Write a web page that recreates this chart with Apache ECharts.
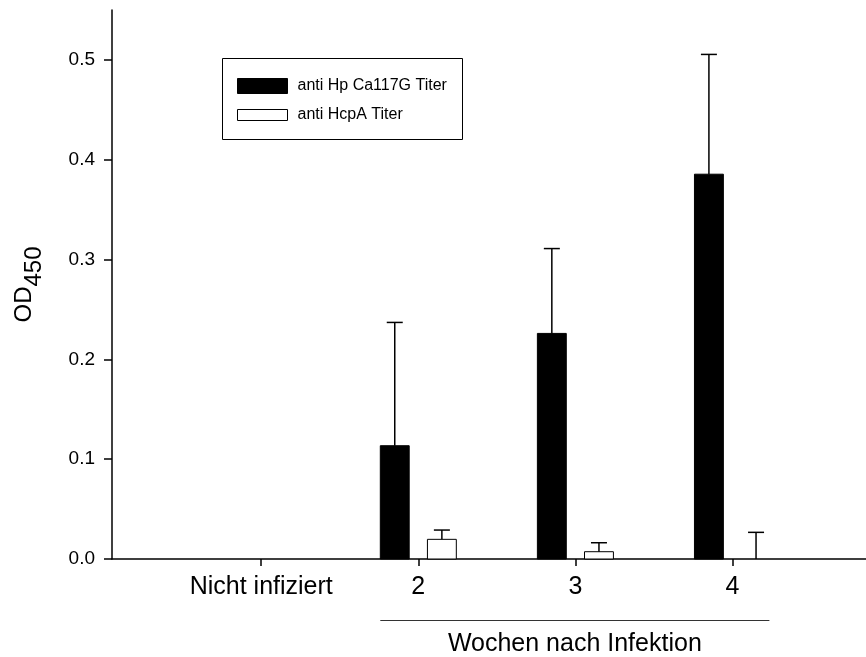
<!DOCTYPE html>
<html>
<head>
<meta charset="utf-8">
<title>OD450 Titer</title>
<script src="https://cdn.jsdelivr.net/npm/echarts@6/dist/echarts.min.js"></script>
<style>
  html, body { margin: 0; padding: 0; background: #fff; }
  #chart { width: 866px; height: 657px; }
</style>
</head>
<body>
<div id="chart"></div>
<script>
// Groups along the x axis (placed at positions 1..n)
const categories = ['Nicht infiziert', '2', '3', '4'];
// anti Hp Ca117G titer: mean OD450 and upper error
const hpMean = [0, 0.1135, 0.226, 0.3855];
const hpErr  = [0, 0.1235, 0.085, 0.12];
// anti HcpA titer: mean OD450 and upper error
const hcpMean = [0, 0.0197, 0.0073, 0];
const hcpErr  = [0, 0.0093, 0.009, 0.0267];
// y axis tick values
const yTicks = [0, 0.1, 0.2, 0.3, 0.4, 0.5];
const seriesNames = ['anti Hp Ca117G Titer', 'anti HcpA Titer'];

const FONT = '"Liberation Sans", Arial, Helvetica, sans-serif';
const positions = categories.map((c, i) => i + 1);
const BAR_OFFSET = 0.15;   // distance of each bar centre from the group position (axis units)
const BAR_HALF = 0.092;    // half bar width (axis units)
const CAP_HALF = 8;        // half width of error caps (px)

function makeData(mean, err) {
  return positions.map((p, i) => [p, mean[i], err[i]]);
}

function barRenderer(side, fill) {
  return function (params, api) {
    const x = api.value(0) + side * BAR_OFFSET;
    const m = api.value(1);
    const e = api.value(2);
    if (!m && !e) return null;
    const base = api.coord([x, 0]);
    const tl = api.coord([x - BAR_HALF, m]);
    const br = api.coord([x + BAR_HALF, 0]);
    const children = [];
    if (m > 0) {
      children.push({
        type: 'rect',
        shape: { x: tl[0], y: tl[1], width: br[0] - tl[0], height: br[1] - tl[1] },
        style: { fill: fill, stroke: '#000', lineWidth: 1 }
      });
    }
    if (e > 0) {
      const top = api.coord([x, m + e]);
      const bot = api.coord([x, m]);
      children.push({
        type: 'line',
        shape: { x1: bot[0], y1: bot[1], x2: top[0], y2: top[1] },
        style: { stroke: '#000', lineWidth: 1.5 }
      });
      children.push({
        type: 'line',
        shape: { x1: top[0] - CAP_HALF, y1: top[1], x2: top[0] + CAP_HALF, y2: top[1] },
        style: { stroke: '#000', lineWidth: 1.5 }
      });
    }
    return { type: 'group', children: children };
  };
}

const chart = echarts.init(document.getElementById('chart'), null, { renderer: 'canvas' });

const legendCommon = {
  orient: 'vertical',
  left: 237,
  padding: 0,
  itemWidth: 50,
  selectedMode: false,
  textStyle: { fontFamily: FONT, fontSize: 16, color: '#000', lineHeight: 18, padding: [0, 0, 0, 5] }
};

chart.setOption({
  animation: false,
  backgroundColor: '#fff',
  grid: { left: 112, right: 0, top: 10, bottom: 98 },
  legend: [
    Object.assign({}, legendCommon, {
      top: 77, itemHeight: 15,
      data: [{ name: seriesNames[0], icon: 'rect', itemStyle: { color: '#000', borderColor: '#000', borderWidth: 1 } }]
    }),
    Object.assign({}, legendCommon, {
      top: 106, itemHeight: 11,
      data: [{ name: seriesNames[1], icon: 'rect', itemStyle: { color: '#fff', borderColor: '#000', borderWidth: 1 } }]
    })
  ],
  xAxis: {
    type: 'value',
    min: 0.05,
    max: 4.85,
    splitLine: { show: false },
    axisLine: { show: true, onZero: false, lineStyle: { color: '#000', width: 1.5 } },
    axisTick: { show: true, inside: false, length: 7, customValues: positions, lineStyle: { color: '#000', width: 1.5 } },
    axisLabel: {
      customValues: positions,
      margin: 16,
      fontFamily: FONT, fontSize: 25, color: '#000',
      formatter: v => categories[Math.round(v) - 1] || ''
    }
  },
  yAxis: {
    type: 'value',
    min: 0,
    max: 0.55,
    splitLine: { show: false },
    axisLine: { show: true, lineStyle: { color: '#000', width: 1.5 } },
    axisTick: { show: true, inside: false, length: 8, customValues: yTicks, lineStyle: { color: '#000', width: 1.5 } },
    axisLabel: {
      customValues: yTicks,
      margin: 17,
      fontFamily: FONT, fontSize: 19, color: '#000',
      formatter: v => v.toFixed(1)
    },
    name: '{m|OD}{s|450}',
    nameLocation: 'middle',
    nameGap: 76,
    nameRotate: 90,
    nameTextStyle: {
      rich: {
        m: { fontFamily: FONT, fontSize: 24, color: '#000', verticalAlign: 'bottom', lineHeight: 30 },
        s: { fontFamily: FONT, fontSize: 24, color: '#000', verticalAlign: 'bottom', lineHeight: 30, padding: [0, 0, -10, 0] }
      }
    }
  },
  series: [
    {
      name: seriesNames[0],
      type: 'custom',
      renderItem: barRenderer(-1, '#000'),
      itemStyle: { color: '#000' },
      encode: { x: 0, y: 1 },
      data: makeData(hpMean, hpErr)
    },
    {
      name: seriesNames[1],
      type: 'custom',
      renderItem: barRenderer(1, '#fff'),
      itemStyle: { color: '#fff' },
      encode: { x: 0, y: 1 },
      data: makeData(hcpMean, hcpErr)
    }
  ]
});

// Legend frame and the "weeks" bracket under groups 2-4
const p2 = chart.convertToPixel({ xAxisIndex: 0, yAxisIndex: 0 }, [positions[1] - 0.242, 0]);
const p4 = chart.convertToPixel({ xAxisIndex: 0, yAxisIndex: 0 }, [positions[3] + 0.235, 0]);
const bracketY = 620.5;
chart.setOption({
  graphic: [
    {
      type: 'rect', z: -1,
      shape: { x: 222.5, y: 58.5, width: 240, height: 81 },
      style: { fill: '#fff', stroke: '#000', lineWidth: 1 }
    },
    {
      type: 'line',
      shape: { x1: p2[0], y1: bracketY, x2: p4[0], y2: bracketY },
      style: { stroke: '#333', lineWidth: 1 }
    },
    {
      type: 'text',
      x: (p2[0] + p4[0]) / 2, y: 644,
      style: {
        text: 'Wochen nach Infektion',
        fontFamily: FONT, fontSize: 25, fill: '#000',
        align: 'center', verticalAlign: 'middle'
      }
    }
  ]
});
</script>
</body>
</html>
